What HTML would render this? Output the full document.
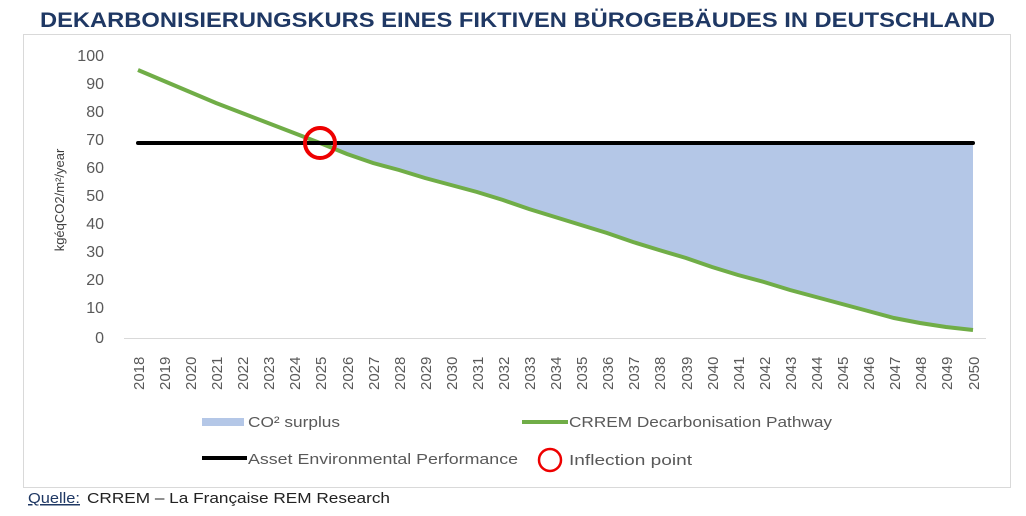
<!DOCTYPE html>
<html><head><meta charset="utf-8"><style>
html,body{margin:0;padding:0;background:#fff;}
svg{display:block;}
text{font-family:"Liberation Sans",sans-serif;}
</style></head><body>
<svg width="1026" height="516" viewBox="0 0 1026 516" xmlns="http://www.w3.org/2000/svg">
<text x="40" y="27" font-weight="bold" font-size="21" fill="#1f3864" textLength="955" lengthAdjust="spacingAndGlyphs">DEKARBONISIERUNGSKURS EINES FIKTIVEN BÜROGEBÄUDES IN DEUTSCHLAND</text>
<rect x="23.5" y="34.5" width="987" height="453" fill="#fff" stroke="#d9d9d9"/>
<g font-size="16" fill="#595959" text-anchor="end">
<text x="104" y="61">100</text><text x="104" y="89">90</text><text x="104" y="117">80</text><text x="104" y="145">70</text><text x="104" y="173">60</text><text x="104" y="201">50</text><text x="104" y="229">40</text><text x="104" y="257">30</text><text x="104" y="285">20</text><text x="104" y="313">10</text><text x="104" y="343">0</text>
</g>
<text transform="translate(64,200) rotate(-90)" font-size="13" fill="#404040" text-anchor="middle">kgéqCO2/m²/year</text>
<line x1="124" y1="338.5" x2="986" y2="338.5" stroke="#d9d9d9" stroke-width="1"/>
<polygon fill="#b4c7e7" points="320,142 973,142 973,330 946,327 920,323 894,318 868,311 842,304 816,297 790,290 764,282 738,275 712,267 686,258 659,250 633,242 607,233 581,225 555,217 529,209 503,200 477,192 451,185 425,178 399,170 373,163 347,154 320,144"/>
<polyline fill="none" stroke="#70ad47" stroke-width="4" points="138,70 164,81 190,92 216,103 242,113 268,123 294,133 320,143 347,154 373,163 399,170 425,178 451,185 477,192 503,200 529,209 555,217 581,225 607,233 633,242 659,250 686,258 712,267 738,275 764,282 790,290 816,297 842,304 868,311 894,318 920,323 946,327 973,330"/>
<line x1="138" y1="143" x2="973" y2="143" stroke="#000" stroke-width="4" stroke-linecap="round"/>
<circle cx="320" cy="143" r="15" fill="none" stroke="#e00" stroke-width="4"/>
<g font-size="15" fill="#595959">
<text transform="translate(144,390) rotate(-90)">2018</text><text transform="translate(170,390) rotate(-90)">2019</text><text transform="translate(196,390) rotate(-90)">2020</text><text transform="translate(222,390) rotate(-90)">2021</text><text transform="translate(248,390) rotate(-90)">2022</text><text transform="translate(274,390) rotate(-90)">2023</text><text transform="translate(300,390) rotate(-90)">2024</text><text transform="translate(326,390) rotate(-90)">2025</text><text transform="translate(353,390) rotate(-90)">2026</text><text transform="translate(379,390) rotate(-90)">2027</text><text transform="translate(405,390) rotate(-90)">2028</text><text transform="translate(431,390) rotate(-90)">2029</text><text transform="translate(457,390) rotate(-90)">2030</text><text transform="translate(483,390) rotate(-90)">2031</text><text transform="translate(509,390) rotate(-90)">2032</text><text transform="translate(535,390) rotate(-90)">2033</text><text transform="translate(561,390) rotate(-90)">2034</text><text transform="translate(587,390) rotate(-90)">2035</text><text transform="translate(613,390) rotate(-90)">2036</text><text transform="translate(639,390) rotate(-90)">2037</text><text transform="translate(665,390) rotate(-90)">2038</text><text transform="translate(692,390) rotate(-90)">2039</text><text transform="translate(718,390) rotate(-90)">2040</text><text transform="translate(744,390) rotate(-90)">2041</text><text transform="translate(770,390) rotate(-90)">2042</text><text transform="translate(796,390) rotate(-90)">2043</text><text transform="translate(822,390) rotate(-90)">2044</text><text transform="translate(848,390) rotate(-90)">2045</text><text transform="translate(874,390) rotate(-90)">2046</text><text transform="translate(900,390) rotate(-90)">2047</text><text transform="translate(926,390) rotate(-90)">2048</text><text transform="translate(952,390) rotate(-90)">2049</text><text transform="translate(979,390) rotate(-90)">2050</text>
</g>
<g font-size="15" fill="#595959">
<rect x="202" y="418" width="42" height="8" fill="#b4c7e7"/>
<text x="248" y="427" textLength="92" lengthAdjust="spacingAndGlyphs">CO² surplus</text>
<line x1="522" y1="422" x2="568" y2="422" stroke="#70ad47" stroke-width="4"/>
<text x="569" y="427" textLength="263" lengthAdjust="spacingAndGlyphs">CRREM Decarbonisation Pathway</text>
<line x1="202" y1="458" x2="247" y2="458" stroke="#000" stroke-width="4"/>
<text x="248" y="464" textLength="270" lengthAdjust="spacingAndGlyphs">Asset Environmental Performance</text>
<circle cx="550" cy="460" r="11" fill="none" stroke="#e00" stroke-width="2.5"/>
<text x="569" y="465" textLength="123" lengthAdjust="spacingAndGlyphs">Inflection point</text>
</g>
<g font-size="15">
<text x="28" y="503" fill="#1f3864" text-decoration="underline" textLength="52" lengthAdjust="spacingAndGlyphs">Quelle:</text>
<text x="87" y="503" fill="#222" textLength="303" lengthAdjust="spacingAndGlyphs">CRREM – La Française REM Research</text>
</g>
</svg>
</body></html>
